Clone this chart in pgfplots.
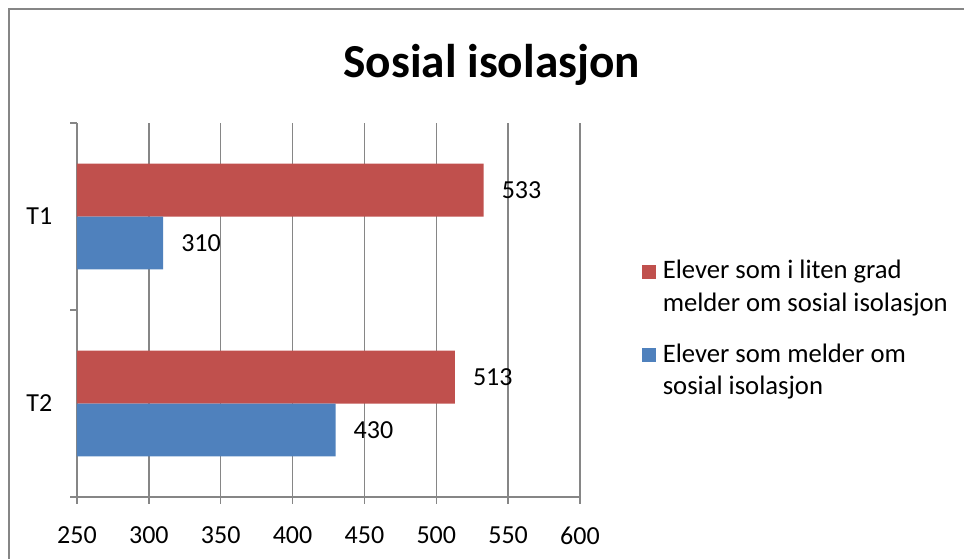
\documentclass[border=0pt]{standalone}
\usepackage{fontspec}
\setmainfont{Carlito}
\usepackage{pgfplots}
\pgfplotsset{compat=1.18}

\definecolor{barred}{HTML}{C0504D}
\definecolor{barblue}{HTML}{4F81BD}
\definecolor{linegray}{HTML}{868686}

\newcommand{\twolines}[2]{\begin{tabular}[t]{@{}l@{}}#1\\#2\end{tabular}}

\begin{document}
\begin{tikzpicture}[font=\fontsize{19.5}{24}\selectfont]
  % picture size of the reference: 964 x 558 px, 1px = 0.75pt
  \useasboundingbox (-57.75pt,-45.75pt) rectangle (665.25pt,372.75pt);
  \draw[linegray, line width=1.5pt] (-51pt,-60pt) -- (-51pt,366pt) -- (700pt,366pt);

  \begin{axis}[
    at={(0,0)}, anchor=south west,
    scale only axis,
    width=377.25pt, height=280.5pt,
    xbar, bar width=0.283,
    xmin=250, xmax=600,
    ymin=-0.5, ymax=1.5,
    xtick={250,300,...,600},
    ytick={0,1}, yticklabels={T2,T1},
    minor ytick={-0.5,0.5,1.5},
    major y tick style={draw=none},
    tick align=outside,
    major tick length=5pt, minor tick length=5pt,
    tick style={linegray, line width=1pt},
    axis x line*=bottom, axis y line*=left,
    axis line style={linegray, line width=1pt},
    x axis line style={shorten <=-5pt},
    xmajorgrids, grid style={linegray, line width=1pt},
    /pgf/number format/assume math mode=true,
    xticklabel style={yshift=-14pt},
    yticklabel style={xshift=-10pt},
    nodes near coords,
    nodes near coords style={anchor=west, xshift=10pt},
    legend style={draw=none, fill=none, at={(rel axis cs:1.115,0.66)}, anchor=north west,
      cells={anchor=base west}, row sep=40pt,
      font=\fontsize{20}{24.5}\selectfont},
    legend image code/.code={\fill[#1] (0pt,0pt) rectangle (10.5pt,10.5pt);
      \path (13.5pt,0pt);},
  ]
    \addplot[fill=barred, draw=none, bar shift=0.1415] coordinates {(533,1) (513,0)};
    \addlegendentry{\twolines{Elever som i liten grad}{melder om sosial isolasjon}}
    \addplot[fill=barblue, draw=none, bar shift=-0.1415] coordinates {(310,1) (430,0)};
    \addlegendentry{\twolines{Elever som melder om}{sosial isolasjon}}
  \end{axis}

  \node[anchor=base, font=\fontsize{35.5}{42}\selectfont\bfseries] at (311pt,314.25pt) {Sosial isolasjon};
\end{tikzpicture}
\end{document}
